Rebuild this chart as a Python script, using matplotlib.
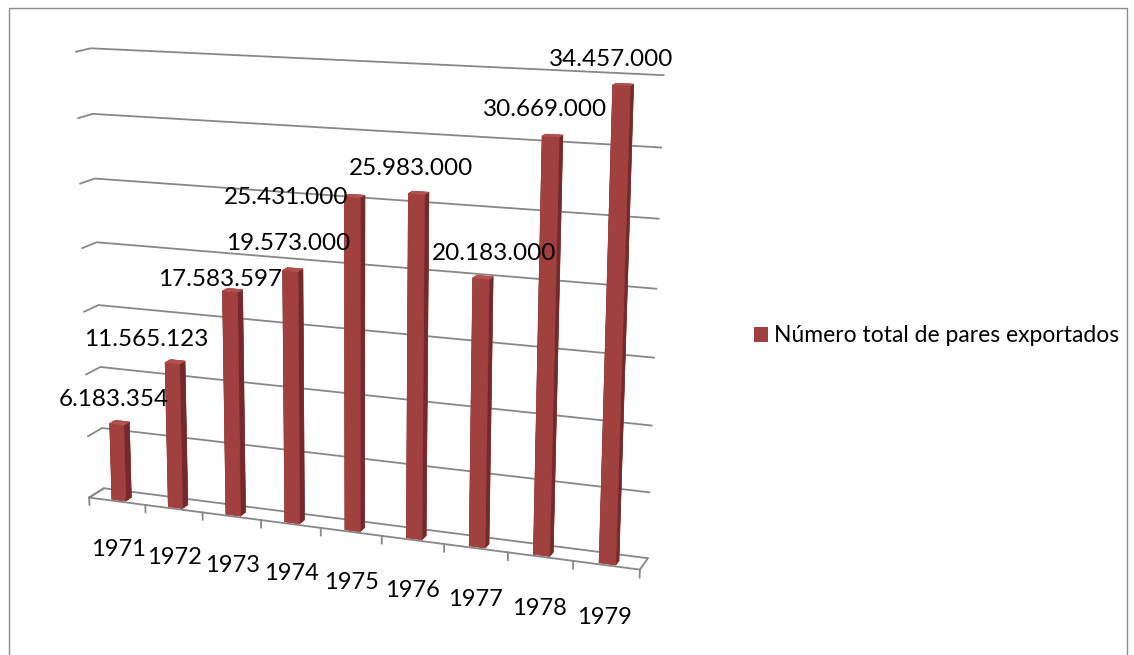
import numpy as np
import matplotlib
matplotlib.use('Agg')
import matplotlib.pyplot as plt
import matplotlib.transforms as mtransforms
from matplotlib.patches import Patch, Rectangle

plt.rcParams['font.family'] = ['Lato', 'DejaVu Sans']

# ---------- data ----------
years = ['1971', '1972', '1973', '1974', '1975', '1976', '1977', '1978', '1979']
pairs_exported = [6183354, 11565123, 17583597, 19573000, 25431000,
                  25983000, 20183000, 30669000, 34457000]
value_labels = ['6.183.354', '11.565.123', '17.583.597', '19.573.000', '25.431.000',
                '25.983.000', '20.183.000', '30.669.000', '34.457.000']
series_name = 'Número total de pares exportados'
grid_steps = np.arange(0, 40, 5)  # millions, back-wall gridlines

# ---------- style / layout ----------
BAR_FRONT = '#A0403F'
BAR_SIDE = '#74292A'
BAR_TOP = '#B35150'
GRID = '#878787'
# pixel nudges for the data labels (Excel pushed a few of them around)
label_nudge = [(-3, 25), (-26, 24), (-10, 12), (-2, 27), (-66, -1),
               (-5, 25), (13, 25), (-6, 27), (-10, 26)]

W, H = 1134, 655
fig = plt.figure(figsize=(W / 100, H / 100), dpi=100)

S = 760            # side of the square 3d axes, px
cx, cy = 357, 354  # where the box centre lands (px from bottom-left)
ax = fig.add_axes([(cx - 0.5135 * S) / W, (cy - 0.5135 * S) / H, S / W, S / H],
                  projection='3d')
ax.set_facecolor('none')
zoom = 0.98
ax.set_proj_type('persp', focal_length=0.522 * zoom)
ax.view_init(elev=13.5, azim=-69)
ax.set_box_aspect((591, 33, 469), zoom=zoom)

n = len(years)
ax.set_xlim(0, n)
ax.set_ylim(0, 1)
ax.set_zlim(0, 35)

# bars
vals = np.asarray(pairs_exported) / 1e6
bw, bd, by = 0.25, 0.38, 0.12
# face order in bar3d: bottom, top, front, back, left, right
face_cols = [BAR_FRONT, BAR_TOP, BAR_FRONT, BAR_FRONT, BAR_SIDE, BAR_SIDE] * n
bars = ax.bar3d(np.arange(n) + 0.5 - bw / 2, np.full(n, by), np.zeros(n),
                bw, bd, vals, color=face_cols, shade=False, linewidth=0.4)
bars.set_edgecolor(face_cols)

# walls: only the value gridlines
ax.set_xticks([])
ax.set_yticks([])
ax.set_zticks(grid_steps)
ax.set_zticklabels([])
for axis in (ax.xaxis, ax.yaxis, ax.zaxis):
    axis.set_pane_color((1, 1, 1, 0))
    axis.line.set_visible(False)
    axis.label.set_visible(False)
    axis.offsetText.set_visible(False)
ax.zaxis.set_tick_params(label1On=False, label2On=False, colors='none')
ax.zaxis._axinfo['grid'].update(color=GRID, linewidth=1.3, linestyle='-')
ax.zaxis._axinfo['tick'].update(inward_factor=0, outward_factor=0)

# floor outline + category ticks
edge_kw = dict(color=GRID, lw=1.3)
ax.plot([0, n], [0, 0], [0, 0], **edge_kw)
ax.plot([0, 0], [0, 1], [0, 0], **edge_kw)
ax.plot([n, n], [0, 1], [0, 0], **edge_kw)
for k in range(n + 1):
    ax.plot([k, k], [0, 0], [0, -0.6], **edge_kw)

# texts: project the 3d anchor once, then place plain 2d text
M = ax.get_proj()


def to2d(x, y, z):
    p = M @ np.array([x, y, z, 1.0])
    return p[0] / p[3], p[1] / p[3]


# category labels
for i, yr in enumerate(years):
    tx, ty = to2d(i + 0.5, 0, -4.0)
    ax.text2D(tx, ty, yr, transform=ax.transData, ha='center', va='center',
              fontsize=17, color='black', clip_on=False)

# data labels
for i, (v, lab) in enumerate(zip(vals, value_labels)):
    dx, dy = label_nudge[i]
    tr = ax.transData + mtransforms.ScaledTranslation(dx / 100, dy / 100,
                                                      fig.dpi_scale_trans)
    tx, ty = to2d(i + 0.5, by, v)
    ax.text2D(tx, ty, lab, transform=tr, ha='center', va='center',
              fontsize=17.5, color='black', clip_on=False)

# legend
fig.legend(handles=[Patch(facecolor=BAR_FRONT, edgecolor='none', label=series_name)],
           loc='center left', bbox_to_anchor=(754 / W, 1 - 336 / H),
           frameon=False, fontsize=16.5, handlelength=0.6, handleheight=0.6,
           handletextpad=0.28, borderpad=0, borderaxespad=0)

# chart frame
fig.patches.append(Rectangle((8.5 / W, -0.05), (1126.5 - 8.5) / W, (H - 7.5) / H + 0.05,
                             transform=fig.transFigure, fill=False,
                             edgecolor='#8C8C8C', lw=1))

fig.savefig('out.png', dpi=100)
